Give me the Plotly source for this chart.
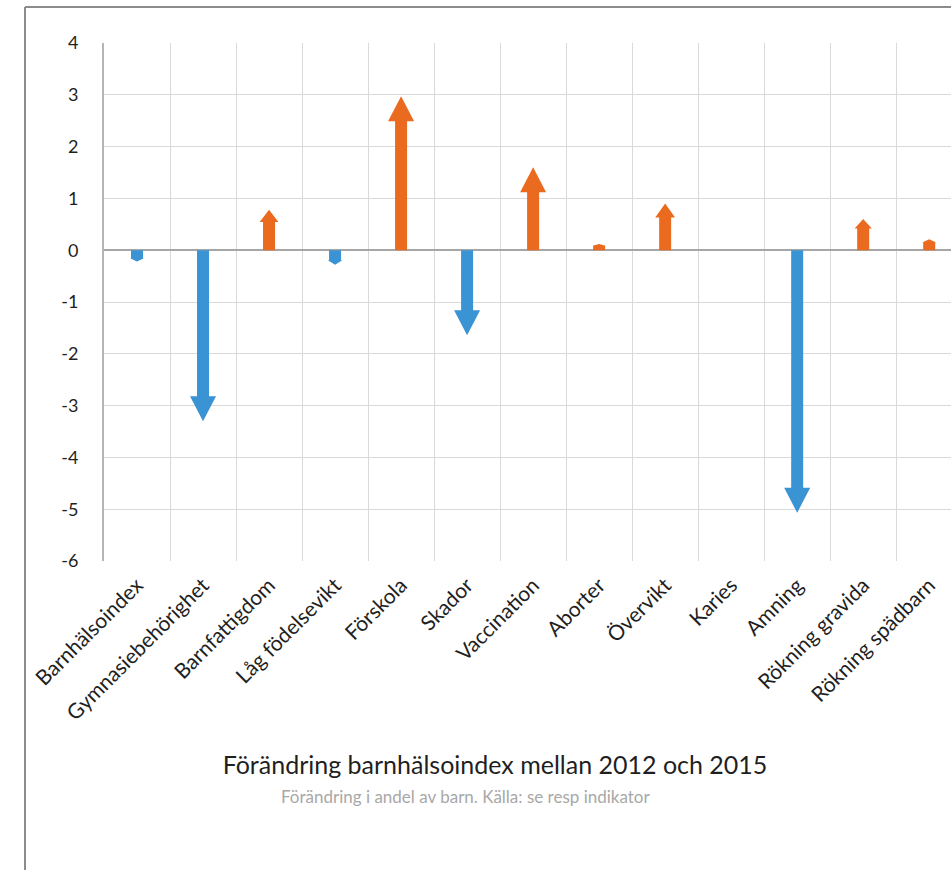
import plotly.graph_objects as go

# Indicator categories and change 2012 -> 2015 (percentage points)
categories = [
    "Barnhälsoindex", "Gymnasiebehörighet", "Barnfattigdom", "Låg födelsevikt",
    "Förskola", "Skador", "Vaccination", "Aborter", "Övervikt", "Karies",
    "Amning", "Rökning gravida", "Rökning spädbarn",
]
changes = [-0.22, -3.3, 0.78, -0.28, 2.97, -1.64, 1.6, 0.12, 0.9, 0.0, -5.07, 0.6, 0.21]
y_ticks = [-6, -5, -4, -3, -2, -1, 0, 1, 2, 3, 4]
y_tick_labels = ["-6", "-5", "-4", "-3", "-2", "-1", "0", "1", "2", "3", "4"]

title_text = "Förändring barnhälsoindex mellan 2012 och 2015"
subtitle_text = "Förändring i andel av barn. Källa: se resp indikator"

W, H = 951, 870
M_L, M_R, M_T, M_B = 104, 0, 43, 309
X_RANGE = [-0.5, 12.33]
Y_RANGE = [-6, 4]

px_per_x = (W - M_L - M_R) / (X_RANGE[1] - X_RANGE[0])
px_per_y = (H - M_T - M_B) / (Y_RANGE[1] - Y_RANGE[0])

SHAFT_HALF = 6 / px_per_x
HEAD_HALF = 13 / px_per_x
HEAD_LEN = 25 / px_per_y

BLUE = "#3a93d3"
ORANGE = "#ea6a1f"
FONT = "Lato, 'Open Sans', sans-serif"


def arrow_outline(i, v):
    """Polygon of an arrow from 0 to v at category position i."""
    s = 1 if v > 0 else -1
    head = min(HEAD_LEN, 0.3 * abs(v))
    frac = head / HEAD_LEN
    hh = SHAFT_HALF + (HEAD_HALF - SHAFT_HALF) * frac
    base = v - s * head
    xs = [i - SHAFT_HALF, i - SHAFT_HALF, i - hh, i, i + hh,
          i + SHAFT_HALF, i + SHAFT_HALF, i - SHAFT_HALF]
    ys = [0, base, base, v, base, base, 0, 0]
    return xs, ys


fig = go.Figure()

for sign, color in ((1, ORANGE), (-1, BLUE)):
    xs, ys = [], []
    for i, v in enumerate(changes):
        if v * sign > 0:
            ax, ay = arrow_outline(i, v)
            xs += ax + [None]
            ys += ay + [None]
    fig.add_trace(go.Scatter(
        x=xs, y=ys, mode="lines", fill="toself", fillcolor=color,
        line=dict(width=0, color=color), hoverinfo="skip", showlegend=False,
    ))

boundaries = [i - 0.5 for i in range(len(categories) + 1)]
plot_w = W - M_L - M_R
plot_h = H - M_T - M_B

fig.update_layout(
    width=W, height=H,
    margin=dict(l=M_L, r=M_R, t=M_T, b=M_B),
    paper_bgcolor="white", plot_bgcolor="white",
    font=dict(family=FONT, color="#262626"),
    title=dict(
        text=title_text, x=495 / W, xanchor="center", y=1 - 765 / H,
        yanchor="middle", yref="container",
        font=dict(size=25, color="#1f1f1f", family=FONT),
    ),
    annotations=[dict(
        text=subtitle_text, xref="paper", yref="paper",
        x=(466 - M_L) / plot_w, y=(H - M_B - 796) / plot_h,
        xanchor="center", yanchor="middle", showarrow=False,
        font=dict(size=17, color="#a8a8a8", family=FONT),
    )],
    xaxis=dict(
        range=X_RANGE, tickmode="array",
        tickvals=list(range(len(categories))), ticktext=categories,
        tickangle=-45, showgrid=False, zeroline=False, showline=False,
        ticks="", ticklabelstandoff=7,
        tickfont=dict(size=21, color="#1f1f1f", family=FONT),
        minor=dict(tickvals=boundaries, showgrid=True, gridcolor="#d9d9d9",
                   gridwidth=1, ticks=""),
        fixedrange=True,
    ),
    yaxis=dict(
        range=Y_RANGE, tickmode="array", tickvals=y_ticks, ticktext=y_tick_labels,
        showgrid=True, gridcolor="#d9d9d9", gridwidth=1,
        zeroline=True, zerolinecolor="#a6a6a6", zerolinewidth=2,
        showline=True, linecolor="#b5b5b5", linewidth=2,
        ticks="", ticklabelstandoff=20,
        tickfont=dict(size=18, color="#1f1f1f", family=FONT),
        fixedrange=True,
    ),
    shapes=[
        # outer chart frame (left and top edges)
        dict(type="line", xref="paper", yref="paper",
             x0=(25 - M_L) / plot_w, x1=(25 - M_L) / plot_w,
             y0=(H - M_B - 7) / plot_h, y1=(H - M_B - 880) / plot_h,
             line=dict(color="#8c8c8c", width=2)),
        dict(type="line", xref="paper", yref="paper",
             x0=(25 - M_L) / plot_w, x1=1.05,
             y0=(H - M_B - 7) / plot_h, y1=(H - M_B - 7) / plot_h,
             line=dict(color="#8c8c8c", width=2)),
    ],
)

fig.write_html("out.html", config={"displayModeBar": False})
